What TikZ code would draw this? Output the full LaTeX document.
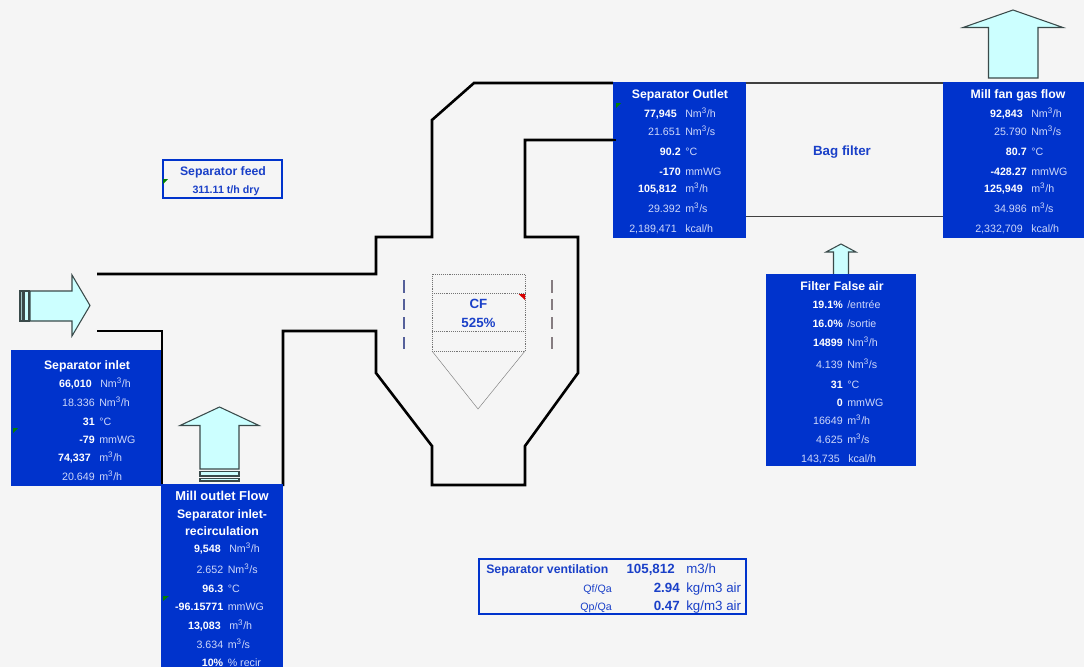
\documentclass[tikz,border=0pt]{standalone}
\usepackage{fontspec}
\setmainfont{Liberation Sans}
\definecolor{bg}{HTML}{F5F5F5}
\definecolor{boxblue}{HTML}{0033CC}
\definecolor{txtblue}{HTML}{1A40C8}
\definecolor{pale}{HTML}{CFD8FA}
\definecolor{aqua}{HTML}{CCFFFF}
\definecolor{edge}{HTML}{3A4A4A}
\definecolor{barfill}{HTML}{9FC4C4}
\definecolor{tickl}{HTML}{55609A}
\definecolor{tickr}{HTML}{857C80}
\newcounter{tc}
\tikzset{
  x=0.75pt,y=-0.75pt,
  duct/.style={line width=1.95pt,black,line cap=butt,line join=miter},
  thin duct/.style={line width=1.4pt,black!75},
  arrowshape/.style={fill=aqua,draw=edge,line width=0.8pt,line join=miter},
  barshape/.style={fill=barfill,draw=edge,line width=0.8pt},
  bluebox/.style={fill=boxblue},
  framebox/.style={draw=boxblue,line width=1.5pt},
  ghost/.style={draw=black!55,densely dotted,line width=0.45pt},
  cyc/.style={draw=black!50,line width=0.35pt},
  titletxt/.style={inner sep=0pt,anchor=mid,yshift=-0.9pt,text=white,font=\fontsize{9.2}{11}\selectfont\bfseries,align=center},
  bigtxt/.style={inner sep=0pt,anchor=mid,yshift=-0.9pt,text=white,font=\fontsize{9.7}{11}\selectfont\bfseries},
  valb/.style={inner sep=0pt,anchor=mid east,yshift=-0.75pt,text=white,font=\fontsize{8}{10}\selectfont\bfseries},
  valr/.style={inner sep=0pt,anchor=mid east,yshift=-0.75pt,text=pale,font=\fontsize{8}{10}\selectfont},
  unit/.style={inner sep=0pt,anchor=mid west,yshift=-0.75pt,text=pale,font=\fontsize{8}{10}\selectfont},
  bluetxt/.style={inner sep=0pt,anchor=mid,yshift=-1.2pt,text=txtblue,font=\fontsize{10}{12}\selectfont\bfseries},
  feedtitle/.style={inner sep=0pt,anchor=mid,yshift=-0.9pt,text=txtblue,font=\fontsize{9.2}{11}\selectfont\bfseries},
  feedval/.style={inner sep=0pt,anchor=mid,yshift=-0.75pt,text=txtblue,font=\fontsize{8}{10}\selectfont\bfseries},
  smalltxt/.style={inner sep=0pt,anchor=mid east,yshift=-0.75pt,text=txtblue,font=\fontsize{8}{10}\selectfont},
  ventval/.style={inner sep=0pt,anchor=mid east,yshift=-0.75pt,text=txtblue,font=\fontsize{10}{12}\selectfont\bfseries},
  ventunit/.style={inner sep=0pt,anchor=mid west,yshift=-0.75pt,text=txtblue,font=\fontsize{10}{12}\selectfont},
  marker/.style={fill=green!50!black},
}
\newcommand{\rowb}[4]{\stepcounter{tc}\node[valb] (v\arabic{tc}) at (#1,#2) {#3};\node[unit] (u\arabic{tc}) at (#1+4,#2) {#4};}
\newcommand{\rowr}[4]{\stepcounter{tc}\node[valr] (v\arabic{tc}) at (#1,#2) {#3};\node[unit] (u\arabic{tc}) at (#1+4,#2) {#4};}
\newcommand{\Nh}{Nm\textsuperscript{3}/h}
\newcommand{\Ns}{Nm\textsuperscript{3}/s}
\newcommand{\mh}{m\textsuperscript{3}/h}
\newcommand{\ms}{m\textsuperscript{3}/s}
\begin{document}
\begin{tikzpicture}
\path[use as bounding box,fill=bg] (0,0) rectangle (1084,667);

% ducts
\draw[duct] (97,274) -- (376,274) -- (376,237) -- (432,237) -- (432,120) -- (474,83) -- (613,83);
\draw[duct] (97,331) -- (162,331) -- (162,486);
\draw[duct] (283,486) -- (283,331) -- (376,331) -- (376,373) -- (432,446) -- (432,485) -- (525,485) -- (525,446) -- (578,373) -- (578,237) -- (525,237) -- (525,140) -- (613,140);
\draw[thin duct] (746,83) -- (943,83);
\draw[thin duct] (746,216.5) -- (943,216.5);

% classifier
\draw[ghost] (432,274) rectangle (525,351);
\draw[ghost] (432,293) -- (525,293);
\draw[ghost] (432,331) -- (525,331);
\draw[cyc] (432,351) -- (478,409) -- (525,351);
\fill[red!85!black] (518.5,294) -- (525,294) -- (525,300) -- cycle;
\foreach \a/\b in {280/293,299/310,317/329,337/349}{
  \draw[tickl,line width=1.1pt] (404,\a) -- (404,\b);
  \draw[tickr,line width=1.1pt] (552,\a) -- (552,\b);
}
\node[bluetxt] (cf) at (478.5,303.5) {CF};
\node[bluetxt] (cfv) at (478.5,322) {525\%};

% arrows
\draw[barshape] (20,291) rectangle (23,321);
\draw[fill=aqua,draw=edge,line width=0.8pt] (24.5,291) rectangle (29,321);
\draw[arrowshape] (30,291) -- (72,291) -- (72,275) -- (90,305.5) -- (72,336) -- (72,321) -- (30,321) -- cycle;
\draw[arrowshape] (200,469) -- (200,425.5) -- (180,425.5) -- (219.5,407) -- (259,425.5) -- (239,425.5) -- (239,469) -- cycle;
\draw[fill=aqua,draw=edge,line width=0.8pt] (200,471.5) rectangle (239,476);
\draw[fill=aqua,draw=edge,line width=0.8pt] (200,478.5) rectangle (239,481);
\draw[arrowshape] (988.5,78) -- (988.5,27.5) -- (963,27.5) -- (1013,10) -- (1063,27.5) -- (1038,27.5) -- (1038,78) -- cycle;
\draw[arrowshape] (833.5,275) -- (833.5,252) -- (826,252) -- (841,244) -- (856,252) -- (848.5,252) -- (848.5,275) -- cycle;

% blue boxes
\fill[bluebox] (11,350) rectangle (161,486);
\fill[bluebox] (161,484) rectangle (283,667);
\fill[bluebox] (613,82) rectangle (746,238);
\fill[bluebox] (943,82) rectangle (1084,238);
\fill[bluebox] (766,274) rectangle (916,466);
\draw[framebox] (162.5,160) rectangle (282,198);
\draw[framebox] (478.5,558.5) rectangle (745.5,614);
\draw[duct] (613,140) -- (615.5,140);

% markers
\fill[marker] (163,179) -- (168,179) -- (163,184) -- cycle;
\fill[marker] (13,428) -- (18,428) -- (13,433) -- cycle;
\fill[marker] (163,596) -- (169,596) -- (163,601) -- cycle;
\fill[marker] (616,103) -- (621,103) -- (616,108) -- cycle;

% Separator inlet
\node[titletxt] (t1) at (87,365) {Separator inlet};
\rowb{92}{383}{66,010}{\hspace{3pt}\Nh}
\rowr{95}{402}{18.336}{\Nh}
\rowb{95}{421}{31}{°C}
\rowb{95}{439}{-79}{mmWG}
\rowb{91}{457}{74,337}{\hspace{3pt}\mh}
\rowr{95}{476}{20.649}{\mh}

% Mill outlet
\node[bigtxt] (t2) at (222,496) {Mill outlet Flow};
\node[titletxt] (t3) at (222,514) {Separator inlet-};
\node[titletxt] (t4) at (222,531) {recirculation};
\rowb{221}{548}{9,548}{\hspace{3pt}\Nh}
\rowr{223.5}{569}{2.652}{\Ns}
\rowb{223.5}{588}{96.3}{°C}
\rowb{223.5}{606}{-96.15771}{mmWG}
\rowb{221}{625}{13,083}{\hspace{3pt}\mh}
\rowr{223.5}{644}{3.634}{\ms}
\rowb{223.5}{662}{10\%}{\% recir}

% Separator outlet
\node[titletxt] (t5) at (680,94) {Separator Outlet};
\rowb{677}{113}{77,945}{\hspace{3pt}\Nh}
\rowr{681}{131}{21.651}{\Ns}
\rowb{681}{151}{90.2}{°C}
\rowb{681}{171}{-170}{mmWG}
\rowb{677}{188}{105,812}{\hspace{3pt}\mh}
\rowr{681}{208}{29.392}{\ms}
\rowr{677}{228}{2,189,471}{\hspace{3pt}kcal/h}

% Mill fan
\node[titletxt] (t6) at (1018,94) {Mill fan gas flow};
\rowb{1023}{113}{92,843}{\hspace{3pt}\Nh}
\rowr{1027}{131}{25.790}{\Ns}
\rowb{1027}{151}{80.7}{°C}
\rowb{1027}{171}{-428.27}{mmWG}
\rowb{1023}{188}{125,949}{\hspace{3pt}\mh}
\rowr{1027}{208}{34.986}{\ms}
\rowr{1023}{228}{2,332,709}{\hspace{3pt}kcal/h}

% Filter false air
\node[titletxt] (t7) at (842,286) {Filter False air};
\rowb{843}{304}{19.1\%}{/entrée}
\rowb{843}{323}{16.0\%}{/sortie}
\rowb{843}{342}{14899}{\Nh}
\rowr{843}{364}{4.139}{\Ns}
\rowb{843}{384}{31}{°C}
\rowb{843}{402}{0}{mmWG}
\rowr{843}{420}{16649}{\mh}
\rowr{843}{439}{4.625}{\ms}
\rowr{840}{458}{143,735}{\hspace{3pt}kcal/h}

% free labels
\node[bluetxt] (bag) at (842,150) {Bag filter};
\node[feedtitle] (feed) at (223,171) {Separator feed};
\node[feedval] (feedv) at (226,189) {311.11 t/h dry};

% ventilation
\node[feedtitle,anchor=mid west] (vent) at (486,569) {Separator ventilation};
\node[ventval] (ventv) at (675,569) {105,812};
\node[ventunit] (ventu) at (686,569) {m3/h};
\node[smalltxt] (qf) at (612,588) {Qf/Qa};
\node[ventval] (qfv) at (680,588) {2.94};
\node[ventunit] (qfu) at (686,588) {kg/m3 air};
\node[smalltxt] (qp) at (612,606) {Qp/Qa};
\node[ventval] (qpv) at (680,606) {0.47};
\node[ventunit] (qpu) at (686,606) {kg/m3 air};
\end{tikzpicture}
\end{document}
